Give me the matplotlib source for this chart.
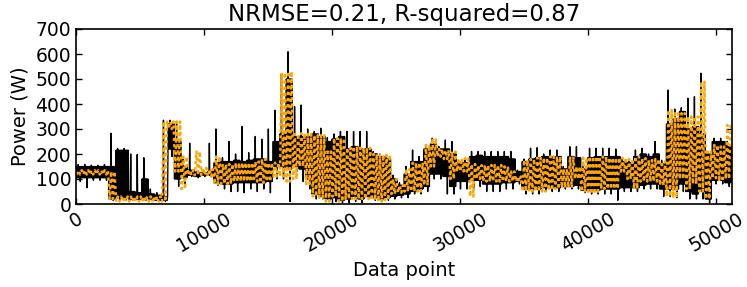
import numpy as np
import matplotlib
matplotlib.use("Agg")
import matplotlib.pyplot as plt

# 51200 data points, summarised in 100 bins of 512 points
N_POINTS = 51200
BIN = 512

# measured power (W): per bin, lowest dip, core band low/high, highest spike
black_min = [90, 65, 95, 95, 95, 15, 15, 15, 15, 15,
             15, 15, 10, 10, 190, 70, 80, 110, 105, 110,
             110, 75, 60, 50, 50, 45, 60, 50, 60, 45,
             100, 100, 10, 130, 90, 60, 20, 20, 10, 10,
             5, 5, 10, 5, 20, 15, 10, 15, 20, 25,
             25, 40, 40, 50, 100, 100, 40, 40, 60, 60,
             60, 70, 50, 50, 50, 60, 60, 80, 40, 40,
             40, 50, 50, 50, 60, 60, 60, 45, 40, 40,
             40, 40, 15, 50, 50, 50, 60, 60, 60, 30,
             30, 25, 50, 20, 20, 20, 5, 80, 80, 70]
black_lo = [105, 105, 105, 105, 105, 20, 25, 25, 20, 20,
            25, 20, 15, 15, 220, 100, 105, 115, 110, 115,
            115, 85, 80, 80, 85, 85, 85, 85, 85, 90,
            150, 150, 140, 150, 140, 100, 40, 30, 20, 25,
            15, 20, 30, 20, 30, 25, 20, 25, 30, 35,
            40, 50, 60, 70, 120, 120, 110, 70, 90, 90,
            95, 95, 80, 80, 80, 85, 85, 90, 60, 60,
            60, 65, 65, 65, 70, 70, 75, 55, 55, 55,
            60, 60, 60, 65, 65, 65, 75, 80, 80, 60,
            60, 60, 80, 50, 40, 50, 20, 95, 95, 85]
black_hi = [150, 150, 150, 150, 150, 150, 215, 215, 50, 45,
            100, 40, 35, 30, 320, 250, 150, 135, 125, 125,
            130, 165, 170, 170, 175, 170, 175, 180, 180, 170,
            250, 280, 500, 270, 270, 270, 280, 270, 250, 260,
            270, 220, 230, 220, 220, 200, 190, 180, 100, 75,
            120, 170, 170, 220, 240, 220, 220, 200, 165, 165,
            190, 195, 190, 190, 190, 190, 180, 130, 170, 180,
            185, 190, 190, 190, 140, 190, 185, 140, 185, 190,
            190, 190, 190, 170, 165, 190, 200, 190, 200, 160,
            320, 340, 370, 300, 310, 280, 200, 250, 250, 230]
black_max = [158, 158, 155, 155, 158, 283, 222, 222, 200, 198,
             185, 60, 45, 335, 335, 330, 180, 243, 130, 135,
             243, 300, 185, 250, 200, 310, 205, 270, 259, 300,
             375, 520, 609, 390, 396, 300, 290, 303, 265, 280,
             290, 290, 290, 290, 290, 210, 200, 195, 115, 85,
             150, 216, 190, 225, 263, 230, 256, 250, 175, 175,
             210, 210, 210, 210, 210, 210, 210, 135, 180, 223,
             225, 200, 216, 216, 150, 229, 229, 150, 223, 223,
             223, 223, 220, 180, 170, 216, 223, 200, 250, 175,
             456, 380, 385, 423, 429, 523, 210, 263, 263, 250]

# prediction (W): per bin, lowest / highest value
pred_lo = [118, 118, 118, 118, 118, 20, 10, 10, 10, 10,
           10, 10, 10, 10, 300, 130, 60, 115, 115, 115,
           110, 80, 80, 80, 90, 90, 90, 90, 85, 90,
           110, 110, 90, 100, 150, 80, 30, 25, 10, 30,
           10, 20, 20, 20, 20, 15, 10, 15, 40, 45,
           50, 50, 50, 75, 150, 190, 180, 100, 130, 130,
           30, 100, 90, 90, 90, 90, 90, 90, 50, 50,
           50, 50, 55, 60, 65, 65, 100, 50, 40, 40,
           60, 60, 60, 130, 100, 60, 90, 90, 90, 75,
           30, 25, 100, 60, 80, 50, 20, 103, 90, 100]
pred_hi = [135, 135, 135, 135, 135, 130, 30, 30, 30, 30,
           30, 30, 30, 330, 330, 330, 190, 135, 210, 145,
           140, 190, 160, 160, 165, 165, 165, 170, 180, 165,
           165, 525, 530, 280, 283, 280, 275, 275, 210, 263,
           263, 225, 230, 225, 225, 200, 196, 196, 100, 75,
           140, 165, 165, 236, 263, 220, 215, 210, 183, 183,
           160, 155, 156, 156, 156, 150, 130, 110, 176, 180,
           185, 185, 190, 190, 140, 190, 150, 185, 190, 190,
           190, 185, 185, 185, 180, 190, 183, 176, 180, 170,
           376, 363, 363, 350, 350, 489, 209, 236, 230, 316]

BLACK_PATTERN = ["lo", "hi", "lo", "hi", "lo", "max", "lo", "hi",
                 "lo", "hi", "min", "hi", "lo", "hi", "lo", "hi"]
PRED_PATTERN = ["lo", "hi", "lo", "hi"]


def trace(cols, pattern):
    # walk through each bin, visiting the read values in a fixed order
    y = np.array([cols[k] for k in pattern], dtype=float).T.ravel()
    x = (np.arange(len(y)) + 0.5) * BIN / len(pattern)
    return x, y


plt.rcParams["font.family"] = "DejaVu Sans"
plt.rcParams["xtick.direction"] = "in"
plt.rcParams["ytick.direction"] = "in"
plt.rcParams["xtick.top"] = True
plt.rcParams["ytick.right"] = True

fig = plt.figure(figsize=(7.47, 2.87), dpi=100)
ax = fig.add_axes([76 / 747, 1 - 204 / 287, 655.5 / 747, 175 / 287])

bx, by = trace({"min": black_min, "lo": black_lo, "hi": black_hi, "max": black_max},
               BLACK_PATTERN)
px, py = trace({"lo": pred_lo, "hi": pred_hi}, PRED_PATTERN)

ax.plot(bx, by, color="black", linewidth=1.0)
ax.plot(px, py, color="orange", linewidth=1.8, linestyle="--", dashes=(1.2, 1.3))

ax.set_xlim(0, N_POINTS)
ax.set_ylim(0, 700)
ax.set_xticks(np.arange(0, 50001, 10000))
ax.set_yticks(np.arange(0, 701, 100))
ax.tick_params(labelsize=13.5, length=4, width=1)
plt.setp(ax.get_xticklabels(), rotation=30)
for s in ax.spines.values():
    s.set_linewidth(1.2)

ax.set_xlabel("Data point", fontsize=14)
ax.set_ylabel("Power (W)", fontsize=14)
ax.set_title("NRMSE=0.21, R-squared=0.87", fontsize=16.5)

fig.savefig("out.png", dpi=100)
